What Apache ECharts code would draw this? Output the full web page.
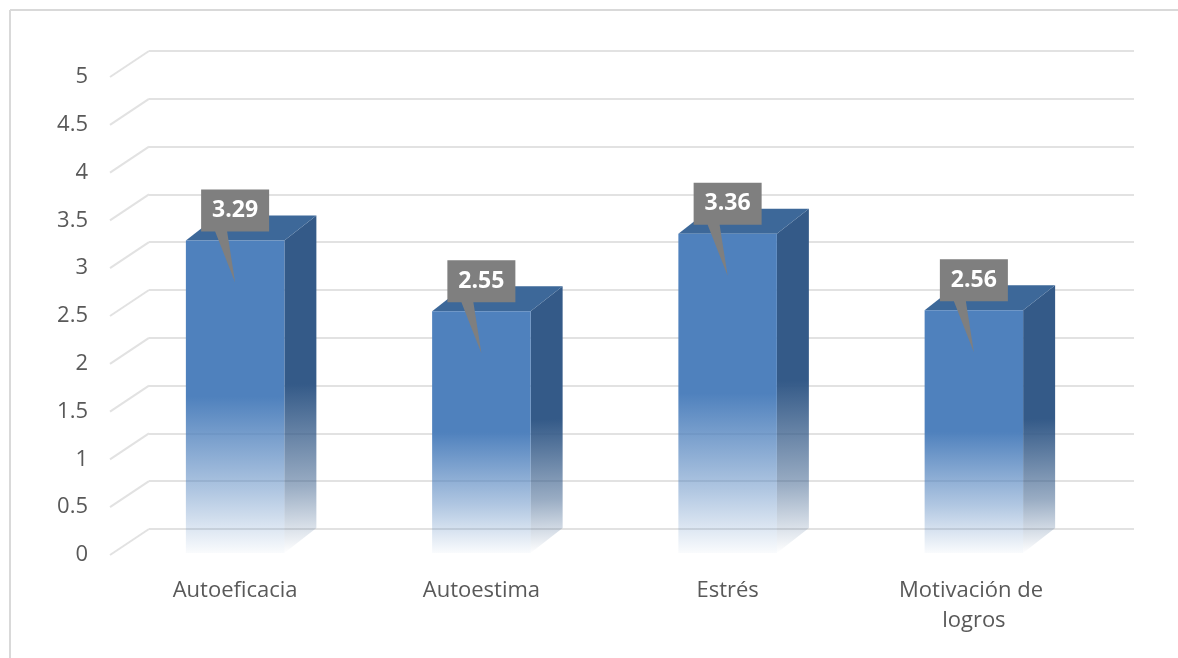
<!DOCTYPE html>
<html>
<head>
<meta charset="utf-8">
<script src="https://cdn.jsdelivr.net/npm/echarts@6/dist/echarts.min.js"></script>
<style>
html,body{margin:0;padding:0;background:#fff;}
#chart{width:1178px;height:658px;}
</style>
</head>
<body>
<div id="chart"></div>
<script>
const categories = ['Autoeficacia', 'Autoestima', 'Estrés', 'Motivación de logros'];
const values = [3.29, 2.55, 3.36, 2.56];
const yTicks = [0, 0.5, 1, 1.5, 2, 2.5, 3, 3.5, 4, 4.5, 5];
const yMin = 0, yMax = 5, yStep = 0.5;

// layout / style constants
const WALL_DX = 37, WALL_DY = -26;   // back wall offset
const BAR_DX = 32, BAR_DY = -25;     // bar depth
const FONT = "'Open Sans', 'Liberation Sans', sans-serif";
const TEXT_COLOR = '#595959';
const FRONT = {l: 112, r: 81, t: 77, b: 103};

const chart = echarts.init(document.getElementById('chart'), null, {renderer: 'canvas'});

function fade(color, solidTo) {
  return {
    type: 'linear', x: 0, y: 0, x2: 0, y2: 1,
    colorStops: [
      {offset: 0, color: color},
      {offset: solidTo, color: color},
      {offset: 0.8, color: echarts.color.modifyAlpha(color, 0.45)},
      {offset: 1, color: echarts.color.modifyAlpha(color, 0.03)}
    ]
  };
}

const option = {
  backgroundColor: '#fff',
  animation: false,
  graphic: [
    {type: 'line', shape: {x1: 10, y1: 10, x2: 1178, y2: 10},
     style: {stroke: '#d9d9d9', lineWidth: 2}, silent: true, z: -10},
    {type: 'line', shape: {x1: 10, y1: 10, x2: 10, y2: 658},
     style: {stroke: '#d9d9d9', lineWidth: 2}, silent: true, z: -10}
  ],
  grid: [
    {left: FRONT.l, right: FRONT.r, top: FRONT.t, bottom: FRONT.b},
    {left: FRONT.l + WALL_DX, right: FRONT.r - WALL_DX, top: FRONT.t + WALL_DY, bottom: FRONT.b - WALL_DY}
  ],
  xAxis: [
    {
      type: 'category', gridIndex: 0, data: categories,
      axisLine: {show: false}, axisTick: {show: false},
      axisLabel: {
        interval: 0, margin: 21, fontSize: 22, lineHeight: 30, color: TEXT_COLOR,
        fontFamily: FONT, width: 180, overflow: 'break'
      }
    },
    {
      type: 'category', gridIndex: 1, data: categories,
      axisLine: {show: false}, axisTick: {show: false}, axisLabel: {show: false}
    }
  ],
  yAxis: [
    {
      type: 'value', gridIndex: 0, min: yMin, max: yMax, interval: yStep,
      axisLine: {show: false}, axisTick: {show: false}, splitLine: {show: false},
      axisLabel: {margin: 24, fontSize: 22, color: TEXT_COLOR, fontFamily: FONT}
    },
    {
      type: 'value', gridIndex: 1, min: yMin, max: yMax, interval: yStep,
      axisLine: {show: false}, axisTick: {show: false}, axisLabel: {show: false},
      splitLine: {show: true, lineStyle: {color: '#e2e2e2', width: 2}}
    }
  ],
  series: [
    {
      // side wall diagonals
      type: 'custom', xAxisIndex: 0, yAxisIndex: 0, silent: true, z: 1,
      data: yTicks.map(v => [0, v]),
      renderItem: function (params, api) {
        const y = api.coord([0, api.value(1)])[1];
        const x = params.coordSys.x - 2;
        return {
          type: 'line',
          shape: {x1: x, y1: y, x2: x + WALL_DX + 2, y2: y + WALL_DY},
          style: {stroke: '#e2e2e2', lineWidth: 2}
        };
      }
    },
    {
      // 3D bars
      type: 'custom', xAxisIndex: 0, yAxisIndex: 0, silent: true, z: 3,
      data: values.map((v, i) => [i, v]),
      renderItem: function (params, api) {
        const top = api.coord([api.value(0), api.value(1)]);
        const base = api.coord([api.value(0), 0]);
        const w = api.size([1, 0])[0] * 0.4;
        const x0 = top[0] - w / 2, x1 = top[0] + w / 2;
        const yT = top[1], yB = base[1] - 2;
        return {
          type: 'group',
          children: [
            {
              type: 'polygon',
              shape: {points: [[x1, yT], [x1 + BAR_DX, yT + BAR_DY], [x1 + BAR_DX, yB + BAR_DY], [x1, yB]]},
              style: {fill: {
                type: 'linear', x: 0, y: 0, x2: 0.25, y2: 1,
                colorStops: [
                  {offset: 0, color: '#345a88'},
                  {offset: 0.5, color: '#345a88'},
                  {offset: 0.8, color: 'rgba(52,90,136,0.5)'},
                  {offset: 1, color: 'rgba(52,90,136,0)'}
                ]}}
            },
            {
              type: 'polygon',
              shape: {points: [[x0, yT], [x0 + BAR_DX, yT + BAR_DY], [x1 + BAR_DX, yT + BAR_DY], [x1, yT]]},
              style: {fill: '#3d6899'}
            },
            {
              type: 'rect',
              shape: {x: x0, y: yT, width: w, height: yB - yT},
              style: {fill: fade('#4f81bd', 0.5)}
            }
          ]
        };
      }
    },
    {
      // callout data labels
      type: 'custom', xAxisIndex: 0, yAxisIndex: 0, silent: true, z: 5,
      data: values.map((v, i) => [i, v]),
      renderItem: function (params, api) {
        const p = api.coord([api.value(0), api.value(1)]);
        const cx = p[0];
        const bw = 68, bh = 42;
        const by1 = p[1] - 9, by0 = by1 - bh;
        const bx0 = cx - bw / 2, bx1 = cx + bw / 2;
        const tipY = by1 + 51;
        return {
          type: 'group',
          children: [
            {
              type: 'polygon',
              shape: {points: [[bx0, by0], [bx1, by0], [bx1, by1], [cx - 8, by1], [cx, tipY], [cx - 20, by1], [bx0, by1]]},
              style: {fill: '#7f7f7f'}
            },
            {
              type: 'text',
              style: {
                x: cx, y: (by0 + by1) / 2,
                text: values[params.dataIndex].toFixed(2),
                fill: '#fff', font: 'bold 23px ' + FONT,
                textAlign: 'center', textVerticalAlign: 'middle'
              }
            }
          ]
        };
      }
    }
  ]
};
chart.setOption(option);
</script>
</body>
</html>
